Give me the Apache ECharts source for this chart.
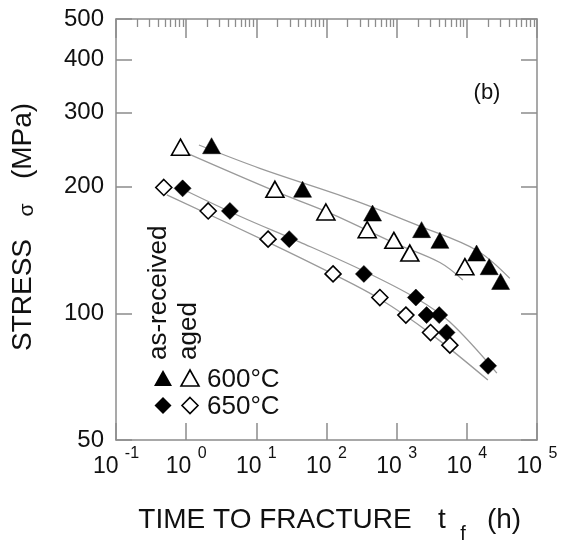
<!DOCTYPE html>
<html><head><meta charset="utf-8">
<script src="https://cdn.jsdelivr.net/npm/echarts@6/dist/echarts.min.js"></script>
<style>html,body{margin:0;padding:0;background:#fff}#c{width:562px;height:544px}</style>
</head><body><div id="c"></div>
<script>
// ---- tick values ----
const xMajorTicks = [0.1, 1, 10, 100, 1000, 10000, 100000];
const minorMultipliers = [2, 3, 4, 5, 6, 7, 8, 9];
const yTickValues = [50, 100, 200, 300, 400, 500];

// ---- data: time to fracture (h) and stress (MPa) ----
const t600AsReceived = [2.3, 45.6, 453, 2264, 4130, 13770, 20800, 30300];
const s600AsReceived = [250, 197, 173, 158, 149, 139, 129, 119];
const t600Aged = [0.83, 18.4, 98, 380, 912, 1540, 9380];
const s600Aged = [248, 197, 174, 158, 149, 139, 129];
const t650AsReceived = [0.89, 4.2, 29.4, 341, 1877, 2670, 4040, 5140, 20100];
const s650AsReceived = [198, 175, 150, 124, 109, 99, 99, 90, 75];
const t650Aged = [0.48, 2.06, 14.7, 124, 576, 1353, 3040, 5730];
const s650Aged = [199, 175, 150, 124, 109, 99, 90, 84];

// ---- fitted curves (gray lines) ----
const tFit600AsReceived = [1.52, 11.2, 238, 2140, 13900, 41000];
const sFit600AsReceived = [251, 221, 186, 161, 141, 121];
const tFit600Aged = [1.02, 18.4, 112, 912, 4130, 8770];
const sFit600Aged = [240, 195, 173, 147, 132, 120];
const tFit650AsReceived = [0.96, 5.83, 41.7, 340, 1877, 5730, 26800];
const sFit650AsReceived = [196, 170, 147.6, 126, 108.7, 95.3, 72.1];
const tFit650Aged = [0.53, 14.6, 123, 576, 2970, 19950];
const sFit650Aged = [191, 147.6, 124, 108.1, 89.7, 69.4];

const xMinorTicks = [];
xMajorTicks.slice(0, -1).forEach(d => minorMultipliers.forEach(m => xMinorTicks.push(+(d * m).toPrecision(3))));

const FONT = '"Liberation Sans", Arial, Helvetica, sans-serif';
const GRAY = '#8c8c8c';
const TXT = '#111';
const pairs = (t, s) => t.map((v, i) => [v, s[i]]);

const chart = echarts.init(document.getElementById('c'), null, { renderer: 'canvas' });

function baseX(extra) {
  return Object.assign({
    type: 'log', logBase: 10, min: 0.1, max: 100000, splitNumber: 6, gridIndex: 0,
    axisLine: { show: true, lineStyle: { color: GRAY, width: 1.5 } },
    splitLine: { show: false }, minorTick: { show: false }, minorSplitLine: { show: false },
    axisLabel: { show: false }
  }, extra);
}
function baseY(extra) {
  return Object.assign({
    type: 'log', logBase: 10, min: 50, max: 500, gridIndex: 0,
    axisLine: { show: true, lineStyle: { color: GRAY, width: 1.5 } },
    axisTick: { show: true, inside: true, length: 16, customValues: yTickValues, lineStyle: { color: GRAY, width: 1.5 } },
    splitLine: { show: false }, minorTick: { show: false },
    axisLabel: { show: false }
  }, extra);
}

const lineSeries = (t, s) => ({
  type: 'line', data: pairs(t, s), smooth: 0.35, showSymbol: false, symbol: 'none',
  lineStyle: { color: '#9a9a9a', width: 1.3 }, z: 1, silent: true
});
const scatter = (t, s, symbol, size, filled) => ({
  type: 'scatter', data: pairs(t, s), symbol: symbol, symbolSize: size, z: 3,
  itemStyle: filled ? { color: '#000', borderColor: '#000', borderWidth: 0.5, opacity: 1 }
                    : { color: '#fff', borderColor: '#000', borderWidth: 1.6, opacity: 1 }
});

const option = {
  animation: false,
  backgroundColor: '#fff',
  grid: { left: 116, top: 19, width: 421, height: 421 },
  xAxis: [
    baseX({
      position: 'bottom',
      axisTick: { show: true, inside: true, length: 17, customValues: xMajorTicks, lineStyle: { color: GRAY, width: 1.5 } },
      axisLabel: {
        show: true, margin: 6, customValues: xMajorTicks, showMinLabel: true, showMaxLabel: true,
        formatter: v => '{b|10 }{s|' + Math.round(Math.log10(v)) + '}',
        rich: {
          b: { fontFamily: FONT, fontSize: 23, color: TXT, lineHeight: 32, verticalAlign: 'bottom' },
          s: { fontFamily: FONT, fontSize: 16, color: TXT, lineHeight: 18, verticalAlign: 'top' }
        }
      }
    }),
    baseX({
      position: 'top',
      axisTick: { show: true, inside: true, length: 19, customValues: xMajorTicks, lineStyle: { color: GRAY, width: 1.5 } }
    }),
    baseX({
      position: 'top',
      axisLine: { show: false },
      axisTick: { show: true, inside: true, length: 8, customValues: xMinorTicks, lineStyle: { color: GRAY, width: 1.3 } }
    })
  ],
  yAxis: [
    baseY({
      position: 'left',
      axisLabel: { show: true, margin: 12, customValues: yTickValues, fontFamily: FONT, fontSize: 24, color: TXT }
    }),
    baseY({ position: 'right' })
  ],
  series: [
    lineSeries(tFit600AsReceived, sFit600AsReceived),
    lineSeries(tFit600Aged, sFit600Aged),
    lineSeries(tFit650AsReceived, sFit650AsReceived),
    lineSeries(tFit650Aged, sFit650Aged),
    scatter(t600AsReceived, s600AsReceived, 'triangle', [18, 16], true),
    scatter(t600Aged, s600Aged, 'triangle', [18, 16], false),
    scatter(t650AsReceived, s650AsReceived, 'diamond', [17, 17], true),
    scatter(t650Aged, s650Aged, 'diamond', [16, 16], false)
  ],
  graphic: [
    // y-axis title (rotated)
    { type: 'text', x: 23, y: 295, rotation: Math.PI / 2, style: { text: 'STRESS', font: '28px ' + FONT, fill: TXT, align: 'center', verticalAlign: 'middle' } },
    { type: 'text', x: 27, y: 210, rotation: Math.PI / 2, style: { text: 'σ', font: '21px ' + FONT, fill: TXT, align: 'center', verticalAlign: 'middle' } },
    { type: 'text', x: 23, y: 141, rotation: Math.PI / 2, style: { text: '(MPa)', font: '28px ' + FONT, fill: TXT, align: 'center', verticalAlign: 'middle' } },
    // x-axis title
    { type: 'text', x: 275, y: 520, style: { text: 'TIME TO FRACTURE', font: '28px ' + FONT, fill: TXT, align: 'center', verticalAlign: 'middle' } },
    { type: 'text', x: 442, y: 520, style: { text: 't', font: '28px ' + FONT, fill: TXT, align: 'center', verticalAlign: 'middle' } },
    { type: 'text', x: 463, y: 534, style: { text: 'f', font: '20px ' + FONT, fill: TXT, align: 'center', verticalAlign: 'middle' } },
    { type: 'text', x: 504, y: 520, style: { text: '(h)', font: '28px ' + FONT, fill: TXT, align: 'center', verticalAlign: 'middle' } },
    // panel label
    { type: 'text', x: 487, y: 93, style: { text: '(b)', font: '22px ' + FONT, fill: TXT, align: 'center', verticalAlign: 'middle' } },
    // legend headings
    { type: 'text', x: 159, y: 360, rotation: Math.PI / 2, style: { text: 'as-received', font: '26px ' + FONT, fill: TXT, align: 'left', verticalAlign: 'middle' } },
    { type: 'text', x: 189, y: 360, rotation: Math.PI / 2, style: { text: 'aged', font: '26px ' + FONT, fill: TXT, align: 'left', verticalAlign: 'middle' } },
    // legend symbols
    { type: 'polygon', shape: { points: [[154, 386], [172, 386], [163, 370]] }, style: { fill: '#000' } },
    { type: 'polygon', shape: { points: [[181, 386], [199, 386], [190, 370]] }, style: { fill: '#fff', stroke: '#000', lineWidth: 1.6 } },
    { type: 'polygon', shape: { points: [[163, 397], [171.5, 405.5], [163, 414], [154.5, 405.5]] }, style: { fill: '#000' } },
    { type: 'polygon', shape: { points: [[190, 397.5], [198, 405.5], [190, 413.5], [182, 405.5]] }, style: { fill: '#fff', stroke: '#000', lineWidth: 1.6 } },
    { type: 'text', x: 207, y: 380, style: { text: '600°C', font: '26px ' + FONT, fill: TXT, align: 'left', verticalAlign: 'middle' } },
    { type: 'text', x: 207, y: 407, style: { text: '650°C', font: '26px ' + FONT, fill: TXT, align: 'left', verticalAlign: 'middle' } }
  ]
};
chart.setOption(option);
</script>
</body></html>
